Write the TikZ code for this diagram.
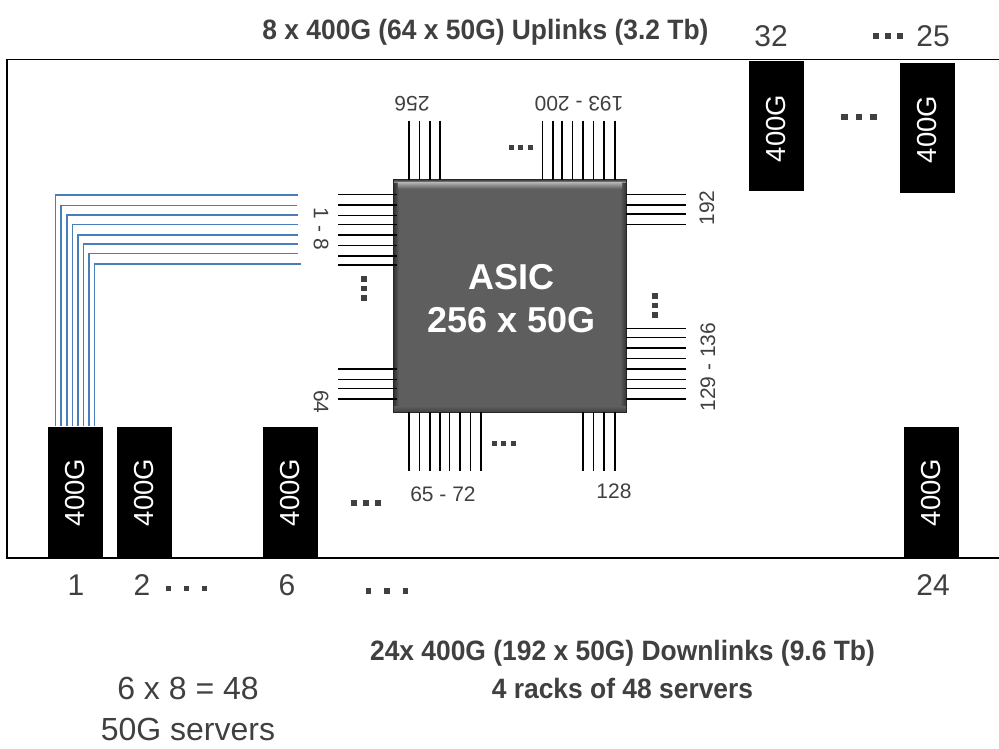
\documentclass[tikz,border=0pt]{standalone}
\usepackage{fontspec}
\setmainfont{Liberation Sans}
\usetikzlibrary{calc}
\definecolor{txt}{HTML}{404040}
\definecolor{wire}{HTML}{4A7EBB}
\definecolor{chipfill}{HTML}{5E5E5E}
\tikzset{
  port/.style={fill=black,draw=none,minimum width=55pt,minimum height=131pt,inner sep=0pt,text=white,font=\fontsize{27.5}{30}\selectfont},
  num/.style={text=txt,inner sep=0pt,font=\fontsize{30}{34}\selectfont},
  small/.style={text=txt,inner sep=0pt,font=\fontsize{21}{24}\selectfont},
  head/.style={text=txt,inner sep=0pt,align=center,font=\fontsize{28}{38}\selectfont\bfseries},
  pin/.style={black,line width=1.1pt},
  bluewire/.style={wire,line width=1.5pt},
  frameline/.style={black,line width=1.2pt}
}
\newcommand{\rowdots}[4]{%
  \foreach \k in {0,1,2}{\fill[txt] ({#1+\k*#3-#4/2},{#2-#4/2}) rectangle ++(#4,#4);}}
\newcommand{\coldots}[3]{%
  \foreach \k in {0,1,2}{\fill[txt] ({#1-2.7},{#2+\k*#3-2.7}) rectangle ++(5.4,5.4);}}
\begin{document}
\begin{tikzpicture}[x=1pt,y=-1pt]
\useasboundingbox (0,0) rectangle (999,749);
\draw[frameline] (999,59.5) -- (7,59.5) -- (7,558) -- (999,558);

% ports
\node[port] (p1) at (75.5,492.5) {\rotatebox{90}{400G}};
\node[port] (p2) at (144,492.5) {\rotatebox{90}{400G}};
\node[port] (p6) at (290,492.5) {\rotatebox{90}{400G}};
\node[port] (p24) at (931,492.5) {\rotatebox{90}{400G}};
\node[port,minimum height=130pt] (p32) at (776.5,126) {\rotatebox{90}{\kern-5pt 400G}};
\node[port,minimum height=130pt] (p25) at (927.5,128) {\rotatebox{90}{\kern-3pt 400G}};

% chip
\node[draw=none,fill=chipfill,minimum width=232pt,minimum height=232pt,inner sep=0pt] (chip) at (510,296) {};
\shade[left color=black!80,right color=chipfill] (chip.north west) rectangle ++(5,232);
\shade[right color=black!80,left color=chipfill] (chip.north east) rectangle ++(-6,232);
\shade[bottom color=black!75,top color=chipfill] ($(chip.south west)+(0,-6)$) rectangle (chip.south east);
\shade[top color=black!75,bottom color=gray!65] (chip.north west) rectangle ($(chip.north east)+(0,3)$);
\shade[top color=gray!65,bottom color=chipfill] ($(chip.north west)+(4,3)$) rectangle ($(chip.north east)+(-4,9)$);
\draw[black!85,line width=1.2pt] (chip.north west) rectangle (chip.south east);
\node[inner sep=0pt,text=white,align=center,font=\fontsize{36}{43}\selectfont\bfseries] (chiplabel) at (511.5,299) {ASIC\\256 x 50G};

% pins
\foreach \y in {194.3,205,215.3,224.3,235,245.7,256,265,369,379.7,388.7,399}
  \draw[pin] (338,\y) -- (397,\y);
\foreach \y in {194.3,205,214,224.3,328.3,337.7,348,358.7,369,379.7,388.7,399}
  \draw[pin] (chip.east |- 0,\y) -- (686,\y);
\foreach \x in {409,419.3,430,440,542.7,553,562,572.7,583,593.7,604,615}
  \draw[pin] (\x,120.7) -- (\x,0 |- chip.north);
\foreach \x in {409,419.3,430,440,449.3,460,470.3,481,583,593.7,604,615}
  \draw[pin] (\x,0 |- chip.south) -- (\x,471);

% blue wires
\foreach \x/\y/\e in {55.7/195/298,61/205.5/297,67/215/298,72.5/224.5/298,78/235/298,83.5/244/298,89/253.5/298,94.5/264/301}
  \draw[bluewire] (\x,425.5) -- (\x,\y) -- (\e,\y);

% dots
\rowdots{511}{148}{9.5}{5}
\rowdots{494}{443}{9.5}{5}
\rowdots{876}{36}{12}{5.6}
\rowdots{844.5}{117}{14.5}{6.8}
\rowdots{354}{503}{12}{6}
\rowdots{168.5}{588}{18}{5}
\rowdots{368.5}{591}{18.5}{5.4}
\coldots{364}{279}{9.5}
\coldots{655}{296}{9.5}

% small labels
\node[small,rotate=-90] (l18) at (321,229) {1 - 8};
\node[small,rotate=-90] (l64) at (321,402) {64};
\node[small,rotate=180] (l256) at (412,104) {256};
\node[small,rotate=180] (l193) at (579,104) {193 - 200};
\node[small,rotate=90] (l192) at (707,208) {192};
\node[small,rotate=90] (l129) at (708,367) {129 - 136};
\node[small] (l65) at (443,494) {65 - 72};
\node[small] (l128) at (614,491) {128};

% port numbers
\node[num] (n32) at (771,36) {32};
\node[num] (n25) at (933,36) {25};
\node[num] (n1) at (76,585) {1};
\node[num] (n2) at (142,585) {2};
\node[num] (n6) at (287,585) {6};
\node[num] (n24) at (933,585) {24};

% headings
\node[head,xscale=0.943] (up) at (485.5,32) {8 x 400G (64 x 50G) Uplinks (3.2 Tb)};
\node[head,xscale=0.943] (down) at (622.5,669) {24x 400G (192 x 50G) Downlinks (9.6 Tb)\\4 racks of 48 servers};
\node[num,align=center,font=\fontsize{32}{40.5}\selectfont] (srv) at (188,709) {6 x 8 = 48\\50G servers};
\end{tikzpicture}
\end{document}
